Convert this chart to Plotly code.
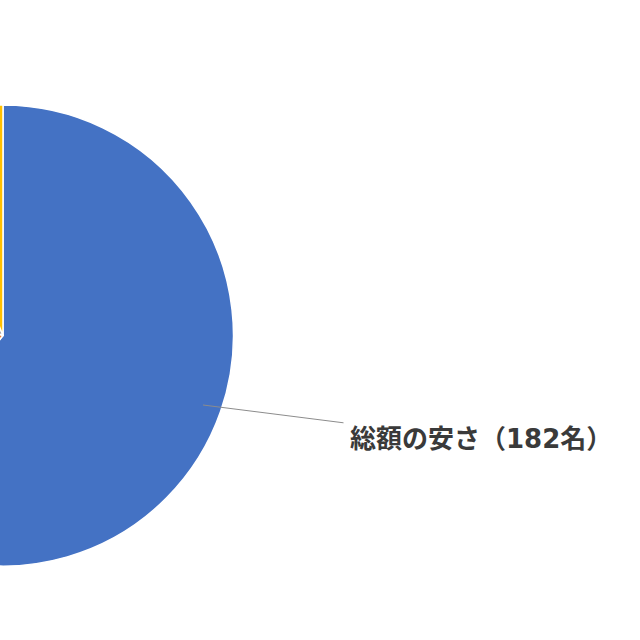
import plotly.graph_objects as go

# answer counts (only the first slice is visible in the crop)
labels = ["総額の安さ", "品質", "サービス", "その他"]
counts = [182, 60, 40, 18]
colors = ["#4472C4", "#ED7D31", "#A5A5A5", "#FFC000"]

label_name = "総額の安さ"
label_count = 182

# the chart is a crop of a wider slide: draw it wide and slide it left
shift = 300
width = 640 + shift
height = 640

fig = go.Figure()
fig.add_trace(
    go.Pie(
        labels=labels,
        values=counts,
        sort=False,
        direction="clockwise",
        rotation=0,
        marker=dict(colors=colors, line=dict(color="white", width=1.5)),
        textinfo="none",
        hoverinfo="label+value",
        domain=dict(x=[(3 + shift - 230.5) / width, (3 + shift + 230.5) / width],
                    y=[0.1156, 0.8359]),
        showlegend=False,
    )
)

# leader line from the slice to its label
fig.add_annotation(
    x=(203 + shift) / width, y=(640 - 405) / height,
    xref="paper", yref="paper",
    text="", showarrow=True, arrowhead=0, arrowwidth=1,
    arrowcolor="#8c8c8c", ax=142, ay=18,
)
# wider digits, like the original slide font
label_html = (
    f"<b>{label_name}（<span style='font-family:DejaVu Sans'>{label_count}</span>名）</b>"
)
fig.add_annotation(
    x=(348 + shift) / width, y=(640 - 436) / height,
    xref="paper", yref="paper",
    text=label_html, showarrow=False,
    xanchor="left", yanchor="middle",
    font=dict(family="Noto Sans CJK JP", size=26, color="#3a3a3a"),
)

fig.update_layout(
    width=width,
    height=height,
    autosize=False,
    margin=dict(l=0, r=0, t=0, b=0),
    paper_bgcolor="white",
    plot_bgcolor="white",
)

post = (
    "document.body.style.margin='0';"
    "document.body.style.overflow='hidden';"
    f"document.getElementById('{{plot_id}}').style.marginLeft='-{shift}px';"
)
fig.write_html("out.html", post_script=post, config={"displayModeBar": False})
